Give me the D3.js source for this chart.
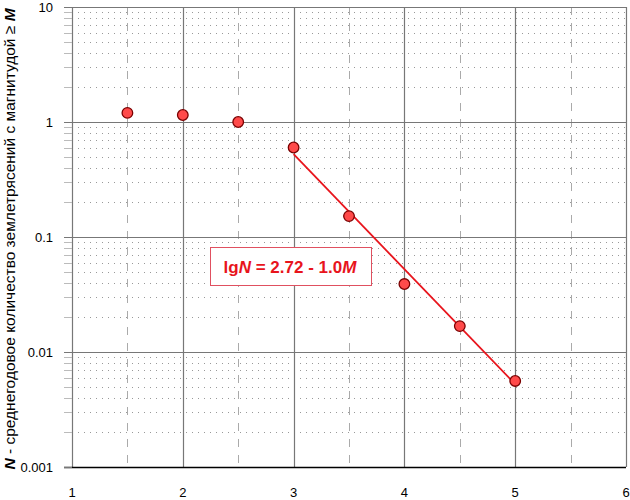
<!DOCTYPE html>
<html>
<head>
<meta charset="utf-8">
<script src="https://cdn.jsdelivr.net/npm/d3@7"></script>
<style>
  body { margin: 0; background: #fff; }
  svg text { font-family: "Liberation Sans", Arial, sans-serif; }
</style>
</head>
<body>
<svg id="chart" width="630" height="500"></svg>
<script>
// magnitudes and average yearly counts
const magnitudes = [1.5, 2, 2.5, 3, 3.5, 4, 4.5, 5];
const counts = [1.2, 1.15, 1.0, 0.6, 0.152, 0.039, 0.0168, 0.0056];
// fit line endpoints (lgN = 2.72 - 1.0M)
const fitM = [3, 5];
const fitN = [0.525, 0.00525];
const xTicks = [1, 2, 3, 4, 5, 6];
const yTicks = [0.001, 0.01, 0.1, 1, 10];
const yTickLabels = ["0.001", "0.01", "0.1", "1", "10"];

const margin = { top: 7, right: 4, bottom: 33, left: 72 };
const width = 630, height = 500;

const svg = d3.select("#chart");

const x = d3.scaleLinear().domain([1, 6]).range([margin.left, width - margin.right]);
const y = d3.scaleLog().domain([0.001, 10]).range([height - margin.bottom, margin.top]);

const grid = svg.append("g");

// minor y grid (dotted)
const minorY = [];
yTicks.slice(0, -1).forEach(d => {
  for (let k = 2; k <= 9; k++) minorY.push(d * k);
});
grid.selectAll(".ymin").data(minorY).join("line")
  .attr("x1", x(1)).attr("x2", x(6))
  .attr("y1", d => Math.round(y(d)) + 0.5).attr("y2", d => Math.round(y(d)) + 0.5)
  .attr("stroke", "#999").attr("stroke-width", 1).attr("stroke-dasharray", "1,5");

// minor x grid (dashed)
const minorX = [1.5, 2.5, 3.5, 4.5, 5.5];
grid.selectAll(".xmin").data(minorX).join("line")
  .attr("x1", d => Math.round(x(d)) + 0.5).attr("x2", d => Math.round(x(d)) + 0.5)
  .attr("y1", y(10)).attr("y2", y(0.001))
  .attr("stroke", "#aaa").attr("stroke-width", 1).attr("stroke-dasharray", "8,8");

// major grid
grid.selectAll(".ymaj").data(yTicks).join("line")
  .attr("x1", x(1)).attr("x2", x(6))
  .attr("y1", d => Math.round(y(d)) + 0.5).attr("y2", d => Math.round(y(d)) + 0.5)
  .attr("stroke", "#777").attr("stroke-width", 1.2);
grid.selectAll(".xmaj").data(xTicks).join("line")
  .attr("x1", d => Math.round(x(d)) + 0.5).attr("x2", d => Math.round(x(d)) + 0.5)
  .attr("y1", y(10)).attr("y2", y(0.001))
  .attr("stroke", "#777").attr("stroke-width", 1.2);

// bottom axis line
svg.append("line")
  .attr("x1", x(1) - 8).attr("x2", x(6))
  .attr("y1", Math.round(y(0.001)) + 0.5).attr("y2", Math.round(y(0.001)) + 0.5)
  .attr("stroke", "#000").attr("stroke-width", 1.5);

// small left tick marks
svg.selectAll(".ytk").data(yTicks.concat(minorY)).join("line")
  .attr("x1", x(1) - 8).attr("x2", x(1))
  .attr("y1", d => Math.round(y(d)) + 0.5).attr("y2", d => Math.round(y(d)) + 0.5)
  .attr("stroke", d => yTicks.includes(d) ? "#777" : "#bbb");

// tick labels
svg.selectAll(".xl").data(xTicks).join("text")
  .attr("x", d => x(d)).attr("y", 497)
  .attr("text-anchor", "middle").attr("font-size", 13).text(d => d);
svg.selectAll(".yl").data(yTicks).join("text")
  .attr("x", 53).attr("y", d => y(d) + 5)
  .attr("text-anchor", "end").attr("font-size", 13)
  .text((d, i) => yTickLabels[i]);

// y axis title
const yt = svg.append("text")
  .attr("transform", `translate(15,${(margin.top + height - margin.bottom) / 2 + 2}) rotate(-90)`)
  .attr("text-anchor", "middle").attr("font-size", 15.5);
yt.append("tspan").attr("font-weight", "bold").attr("font-style", "italic").text("N");
yt.append("tspan").text(" - среднегодовое количество землетрясений с магнитудой ≥ ");
yt.append("tspan").attr("font-weight", "bold").attr("font-style", "italic").text("M");

// fit line
svg.append("path")
  .datum(fitM.map((m, i) => [m, fitN[i]]))
  .attr("d", d3.line().x(d => x(d[0])).y(d => y(d[1])))
  .attr("stroke", "#e8141c").attr("stroke-width", 1.8).attr("fill", "none");

// points
svg.selectAll(".pt").data(magnitudes).join("circle")
  .attr("cx", d => x(d)).attr("cy", (d, i) => y(counts[i]))
  .attr("r", 5.3)
  .attr("fill", "#ff4a4a").attr("stroke", "#7a0000").attr("stroke-width", 1.3);

// equation box
svg.append("rect")
  .attr("x", 210.5).attr("y", 247.5).attr("width", 161).attr("height", 38)
  .attr("fill", "#fff").attr("stroke", "#e05060").attr("stroke-width", 1);
const eq = svg.append("text")
  .attr("x", 290).attr("y", 273).attr("text-anchor", "middle")
  .attr("font-size", 17).attr("font-weight", "bold").attr("fill", "#e8141c");
eq.append("tspan").text("lg");
eq.append("tspan").attr("font-style", "italic").text("N");
eq.append("tspan").text(" = 2.72 - 1.0");
eq.append("tspan").attr("font-style", "italic").text("M");
</script>
</body>
</html>
